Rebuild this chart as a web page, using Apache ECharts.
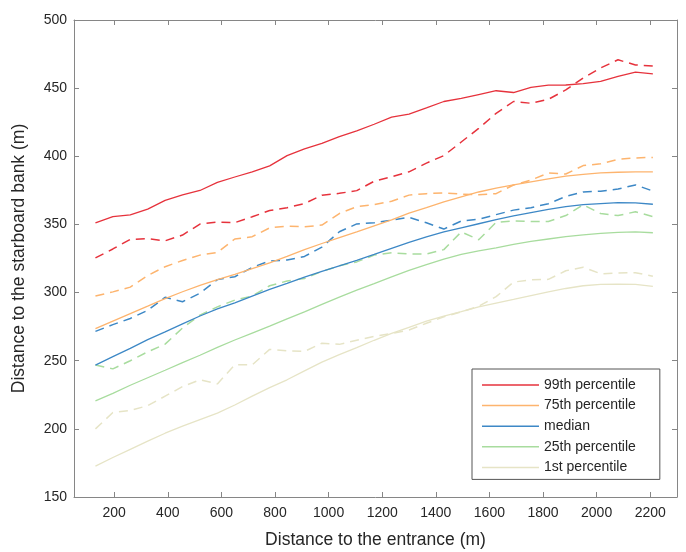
<!DOCTYPE html>
<html>
<head>
<meta charset="utf-8">
<script src="https://cdn.jsdelivr.net/npm/echarts@6/dist/echarts.min.js"></script>
<style>
html,body{margin:0;padding:0;background:#fff;}
#chart{width:686px;height:552px;}
</style>
</head>
<body>
<div id="chart"></div>
<script>
// Distance to the entrance (m)
var distances = [130,195,260,325,390,455,520,585,650,715,780,845,910,975,1040,1105,1170,1235,1300,1365,1430,1495,1560,1625,1690,1755,1820,1885,1950,2015,2080,2145,2210];

// Solid lines (fitted percentiles)
var p99 = [351.2,355.7,357,361.2,367.6,371.6,374.9,380.8,384.8,388.6,393,400.5,405.5,409.4,414.4,418.7,423.5,428.7,431,435.5,440.2,442.5,445.3,448.1,446.8,450.5,452.2,452.3,453.3,455,458.6,461.7,460.5];
var p75 = [273.5,279,284.5,290,295.6,300.6,305.2,309.5,313.3,317.5,321.8,326.6,331.5,336,340.3,344.5,349,353.4,358.3,362.3,366.5,370.3,373.8,376.7,379,381.3,383.4,385.5,386.8,387.9,388.3,388.5,388.5];
var p50 = [246.8,253,259,265.5,271.2,277,282.8,288,292.5,297.4,302.3,306.8,311.4,315.5,319.6,323.6,328,332.5,336.8,340.8,344.5,347.5,350.5,353.5,356.3,358.7,361,363,364.5,365.3,366,365.8,364.8];
var p25 = [220.6,226,232,237.5,243,248.6,254,259.8,265.2,270.3,275.4,280.7,285.8,291.3,296.7,301.8,306.6,311.5,316.3,320.5,324.5,328,330.6,332.8,335.4,337.5,339.3,341,342.4,343.4,344.2,344.6,343.9];
var p1  = [172.7,179,185,191,196.8,202,206.8,211.5,217.5,224,230.2,236,242.5,249,254.5,259.6,265,270,274.5,279,282.8,286,289.5,292.3,295,297.8,300.5,303,305,306,306.2,306,304.5];

// Dashed lines (empirical percentiles)
var p99d = [325.4,332,339,339.5,338,342.2,350.3,351.8,351.3,355.6,360.2,362.3,365.3,371.4,372.8,374.8,381.7,384.9,388.6,395,400.5,410.5,420.5,431.5,440.2,438.9,441.8,448.7,457.5,464.8,470.8,467,466.2];
var p75d = [297.5,300.5,304,312.5,319,323.5,327.5,329.5,339.3,341,347.5,348.8,348.3,349.5,358,363,364.5,367,371.5,372.6,373.2,372.2,371.8,372.6,378.9,382.5,387.7,387,393.2,394.5,397.8,398.8,399.2];
var p50d = [271.5,276.5,281,287,296.5,293.3,299.5,309.5,311.6,318.5,323.2,323.9,326.5,333.4,344.6,350.4,351.2,353.2,355.2,351.2,346.6,352.5,353.8,357.2,360.5,362.3,365.2,370.5,373.8,374.4,376,379,374.5];
var p25d = [246.8,244,250,256.5,262.2,274,283.5,289.5,294.5,297.5,305,308.5,310.3,315.5,319.6,322.5,327.5,329.2,328.4,328.3,331.5,344.5,338.8,351.5,352.6,352.2,352.2,356.5,364.4,358,356.5,359.3,355.7];
var p1d  = [200,212,213.5,217,224,231,236,233,247,247,258.3,257.3,256.8,262.8,262,265,267.8,270,272.5,277.5,282.2,285.8,290,297,307.7,309.3,309.7,316,318.6,313.8,314.3,314.6,312];

var names = ['99th percentile','75th percentile','median','25th percentile','1st percentile'];
var colors = ['#e6323c','#fdb46e','#3d88c6','#a8dc9e','#e6e4c6'];
var solidSets = [p99,p75,p50,p25,p1];
var dashedSets = [p99d,p75d,p50d,p25d,p1d];

var xTicks = [200,400,600,800,1000,1200,1400,1600,1800,2000,2200];

function pairs(vals){ return distances.map(function(d,i){ return [d, vals[i]]; }); }

var series = [];
dashedSets.forEach(function(vals,i){
  series.push({
    name: names[i] + ' (observed)', type:'line', data: pairs(vals),
    symbol:'none', silent:true, z:2,
    lineStyle:{color:colors[i], width:1.5, type:[9,6]}
  });
});
solidSets.forEach(function(vals,i){
  series.push({
    name: names[i], type:'line', data: pairs(vals),
    symbol:'none', silent:true, z:3,
    itemStyle:{color:colors[i]},
    lineStyle:{color:colors[i], width:1.3}
  });
});

var FONT = 'Liberation Sans';
var axisColor = '#868686';
var chart = echarts.init(document.getElementById('chart'), null, {renderer:'canvas'});
chart.setOption({
  animation:false,
  backgroundColor:'#ffffff',
  grid:{left:74, top:20, right:9, bottom:55, containLabel:false, outerBoundsMode:'none'},
  xAxis:[{
    type:'value', min:50, max:2300, position:'bottom',
    name:'Distance to the entrance (m)', nameLocation:'middle', nameGap:34,
    nameTextStyle:{fontFamily:FONT, fontSize:17.5, color:'#262626'},
    axisLine:{show:true, onZero:false, lineStyle:{color:axisColor, width:1}},
    axisTick:{show:true, inside:true, length:5, customValues:xTicks, lineStyle:{color:axisColor}},
    axisLabel:{customValues:xTicks, fontFamily:FONT, fontSize:14, color:'#262626', margin:9,
      formatter:function(v){ return String(v); }},
    splitLine:{show:false}
  },{
    type:'value', min:50, max:2300, position:'top',
    axisLine:{show:true, onZero:false, lineStyle:{color:axisColor, width:1}},
    axisTick:{show:true, inside:true, length:5, customValues:xTicks, lineStyle:{color:axisColor}},
    axisLabel:{show:false}, splitLine:{show:false}
  }],
  yAxis:[{
    type:'value', min:150, max:500, interval:50, position:'left',
    name:'Distance to the starboard bank (m)', nameLocation:'middle', nameGap:46,
    nameTextStyle:{fontFamily:FONT, fontSize:17.5, color:'#262626'},
    axisLine:{show:true, onZero:false, lineStyle:{color:axisColor, width:1}},
    axisTick:{show:true, inside:true, length:5, lineStyle:{color:axisColor}},
    axisLabel:{fontFamily:FONT, fontSize:14, color:'#262626', margin:7},
    splitLine:{show:false}
  },{
    type:'value', min:150, max:500, interval:50, position:'right',
    axisLine:{show:true, onZero:false, lineStyle:{color:axisColor, width:1}},
    axisTick:{show:true, inside:true, length:5, lineStyle:{color:axisColor}},
    axisLabel:{show:false}, splitLine:{show:false}
  }],
  legend:{
    data:names.map(function(n){ return {name:n, icon:'rect'}; }),
    orient:'vertical', left:472, top:369,
    padding:[8,24,4,10], itemGap:4.6, itemWidth:57, itemHeight:1.5,
    borderColor:'#555555', borderWidth:1, backgroundColor:'#ffffff',
    textStyle:{fontFamily:FONT, fontSize:14, lineHeight:16, color:'#262626'},
    selectedMode:false
  },
  series:series
});
</script>
</body>
</html>
